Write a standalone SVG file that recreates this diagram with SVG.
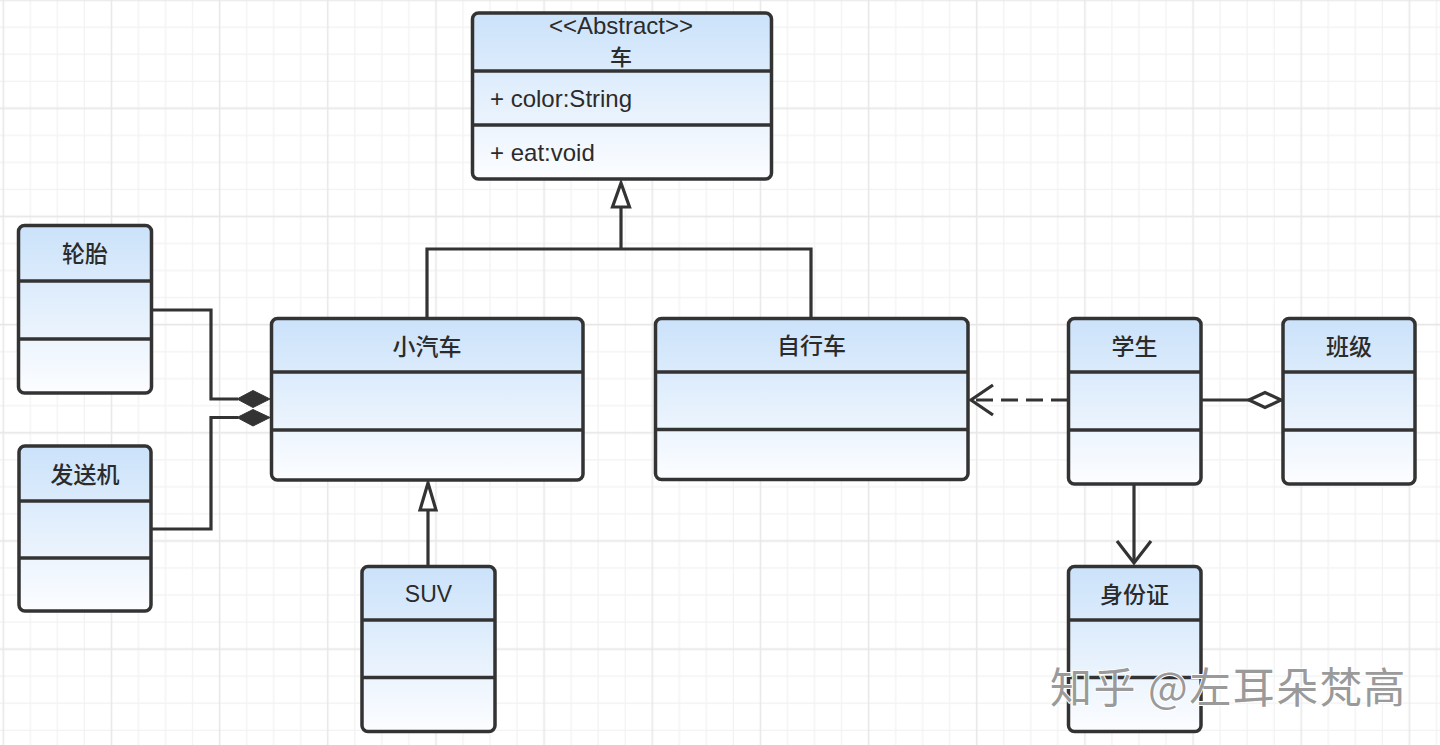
<svg xmlns="http://www.w3.org/2000/svg" width="1440" height="745" viewBox="0 0 1440 745">
<defs>
<pattern id="grid" patternUnits="userSpaceOnUse" x="-10.22" y="-13.37" width="108.16" height="108.16">
<g stroke="#f2f2f2" stroke-width="1.3">
<line x1="40.56" y1="0" x2="40.56" y2="108.16"/>
<line x1="67.6" y1="0" x2="67.6" y2="108.16"/>
<line x1="94.64" y1="0" x2="94.64" y2="108.16"/>
<line y1="40.56" x1="0" y2="40.56" x2="108.16"/>
<line y1="67.6" x1="0" y2="67.6" x2="108.16"/>
<line y1="94.64" x1="0" y2="94.64" x2="108.16"/>
</g>
<g stroke="#e7e7e7" stroke-width="1.5">
<line x1="13.52" y1="0" x2="13.52" y2="108.16"/>
<line y1="13.52" x1="0" y2="13.52" x2="108.16"/>
</g>
</pattern>
<linearGradient id="fill" x1="0" y1="0" x2="0" y2="1">
<stop offset="0" stop-color="#cbe2fa"/>
<stop offset="1" stop-color="#fcfdff"/>
</linearGradient>
<style>
.box{fill:url(#fill);stroke:#333;stroke-width:3.5}
.div{stroke:#333;stroke-width:3.5}
.t{font-family:"Liberation Sans","Noto Sans CJK SC",sans-serif;font-size:23px;font-weight:500;fill:#2b2b2b;text-anchor:middle}
.cn{font-family:"Noto Sans CJK SC",sans-serif;font-size:23px;font-weight:500;fill:#2b2b2b;text-anchor:middle}
.m{font-family:"Liberation Sans",sans-serif;font-size:24px;fill:#2b2b2b}
.ln{fill:none;stroke:#333;stroke-width:3.2}
.hol{fill:#fff;stroke:#333;stroke-width:3.2;stroke-linejoin:miter}
.sol{fill:#333;stroke:#333;stroke-width:1}
.wm{font-family:"Noto Sans CJK SC",sans-serif;font-size:42px;letter-spacing:1.5px;fill:#9a9a9a;stroke:#ffffff;stroke-width:2;paint-order:stroke}
</style>
</defs>
<rect width="1440" height="745" fill="#ffffff"/>
<rect width="1440" height="745" fill="url(#grid)"/>

<g id="connectors">
<path class="ln" d="M427,318 V249 H811 V318"/>
<path class="ln" d="M621,249 V207"/>
<polygon class="hol" points="621,183 612.5,207 629.5,207"/>
<path class="ln" d="M428,566 V510"/>
<polygon class="hol" points="428,483 420,510 436,510"/>
<path class="ln" d="M151,310 H211 V399 H238"/>
<polygon class="sol" points="237,399 253,390.5 270,399 253,407.5"/>
<path class="ln" d="M151,529 H211 V417.5 H238"/>
<polygon class="sol" points="237,417.5 253,409.5 270,417.5 253,426"/>
<path class="ln" d="M1068,400 H974" stroke-dasharray="17 8"/>
<polyline class="ln" points="993,385 971,400 993,415"/>
<path class="ln" d="M1201,400 H1249"/>
<polygon class="hol" points="1249,400 1265,392.5 1281,400 1265,407.5"/>
<path class="ln" d="M1134,484 V562"/>
<polyline class="ln" points="1117,541 1134,563 1151,541"/>
</g>

<g id="node-car">
<rect class="box" x="472.5" y="13" width="299" height="166" rx="6"/>
<line class="div" x1="472.5" y1="71" x2="771.5" y2="71"/>
<line class="div" x1="472.5" y1="125" x2="771.5" y2="125"/>
<text class="t" x="621" y="34" style="font-size:24px">&lt;&lt;Abstract&gt;&gt;</text>
<text class="cn" x="621" y="65" style="font-size:22px">车</text>
<text class="m" x="490" y="107">+ color:String</text>
<text class="m" x="490" y="161">+ eat:void</text>
</g>

<g id="node-tire">
<rect class="box" x="18.5" y="225.5" width="133" height="167.5" rx="6"/>
<line class="div" x1="18.5" y1="281" x2="151.5" y2="281"/>
<line class="div" x1="18.5" y1="339" x2="151.5" y2="339"/>
<text class="cn" x="85" y="262">轮胎</text>
</g>

<g id="node-engine">
<rect class="box" x="19" y="446" width="132" height="165" rx="6"/>
<line class="div" x1="19" y1="501" x2="151" y2="501"/>
<line class="div" x1="19" y1="558" x2="151" y2="558"/>
<text class="cn" x="85" y="483">发送机</text>
</g>

<g id="node-auto">
<rect class="box" x="271.5" y="318.5" width="311.5" height="161.5" rx="6"/>
<line class="div" x1="271.5" y1="372" x2="583" y2="372"/>
<line class="div" x1="271.5" y1="430" x2="583" y2="430"/>
<text class="cn" x="427" y="355">小汽车</text>
</g>

<g id="node-bike">
<rect class="box" x="655.5" y="318.5" width="312.5" height="161" rx="6"/>
<line class="div" x1="655.5" y1="372" x2="968" y2="372"/>
<line class="div" x1="655.5" y1="429.5" x2="968" y2="429.5"/>
<text class="cn" x="811.5" y="354">自行车</text>
</g>

<g id="node-suv">
<rect class="box" x="362" y="566.5" width="133" height="165" rx="6"/>
<line class="div" x1="362" y1="620" x2="495" y2="620"/>
<line class="div" x1="362" y1="677.5" x2="495" y2="677.5"/>
<text class="t" x="428.5" y="602">SUV</text>
</g>

<g id="node-student">
<rect class="box" x="1068.5" y="318.5" width="132.5" height="165.5" rx="6"/>
<line class="div" x1="1068.5" y1="372" x2="1201" y2="372"/>
<line class="div" x1="1068.5" y1="430" x2="1201" y2="430"/>
<text class="cn" x="1134.5" y="355">学生</text>
</g>

<g id="node-class">
<rect class="box" x="1283" y="318.5" width="132" height="165.5" rx="6"/>
<line class="div" x1="1283" y1="372" x2="1415" y2="372"/>
<line class="div" x1="1283" y1="430" x2="1415" y2="430"/>
<text class="cn" x="1349" y="355">班级</text>
</g>

<g id="node-idcard">
<rect class="box" x="1068.5" y="566.5" width="132.5" height="165" rx="6"/>
<line class="div" x1="1068.5" y1="620" x2="1201" y2="620"/>
<line class="div" x1="1068.5" y1="677.5" x2="1201" y2="677.5"/>
<text class="cn" x="1134.5" y="603">身份证</text>
</g>

<text class="wm" x="1050" y="703">知乎 @左耳朵梵高</text>
</svg>
